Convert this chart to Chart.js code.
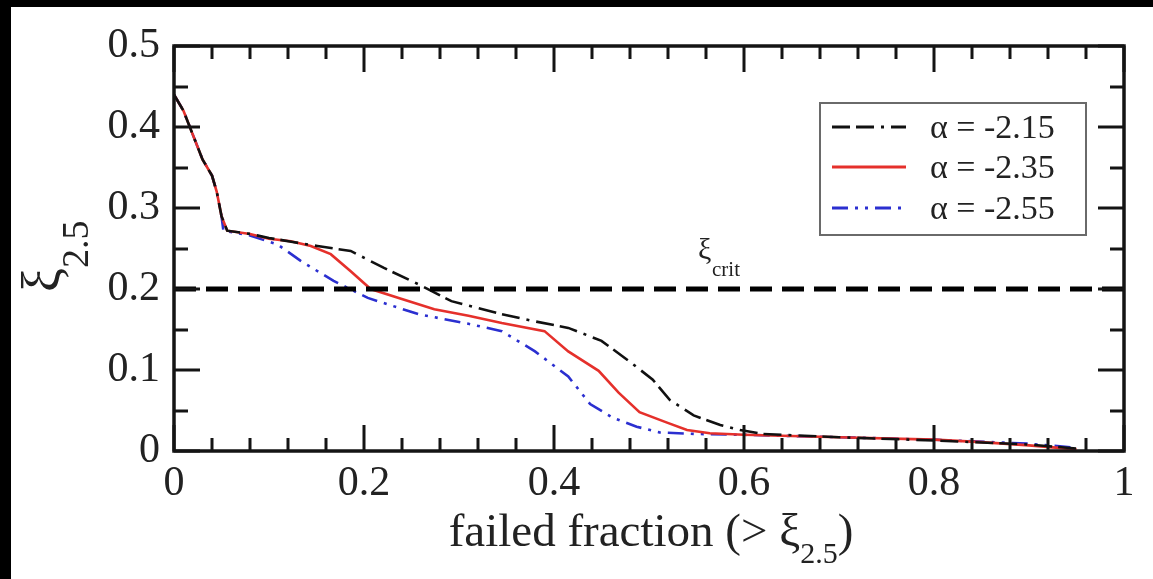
<!DOCTYPE html>
<html>
<head>
<meta charset="utf-8">
<script src="https://cdn.jsdelivr.net/npm/chart.js@4.4.1/dist/chart.umd.min.js"></script>
<style>
  html, body { margin: 0; padding: 0; background: #fff; }
  #wrap { width: 1153px; height: 579px; }
</style>
</head>
<body>
<div id="wrap"><canvas id="xiChart" width="1153" height="579"></canvas></div>
<script>
// failed fraction vs xi_2.5 for three alpha values
const seriesLabels = ['α = -2.15', 'α = -2.35', 'α = -2.55'];

const frac215 = [0, 0.01, 0.02, 0.03, 0.04, 0.045, 0.05, 0.056, 0.08, 0.1, 0.125, 0.151, 0.186, 0.221, 0.257, 0.292, 0.345, 0.38, 0.415, 0.45, 0.479, 0.504, 0.522, 0.547, 0.575, 0.596, 0.62, 0.7, 0.8, 0.9, 0.95];
const xi215   = [0.44, 0.42, 0.39, 0.36, 0.34, 0.32, 0.29, 0.272, 0.268, 0.263, 0.258, 0.253, 0.247, 0.226, 0.206, 0.185, 0.169, 0.16, 0.152, 0.136, 0.111, 0.088, 0.063, 0.044, 0.032, 0.026, 0.021, 0.017, 0.013, 0.008, 0.003];

const frac235 = [0, 0.01, 0.02, 0.03, 0.04, 0.045, 0.05, 0.056, 0.08, 0.1, 0.123, 0.144, 0.165, 0.186, 0.207, 0.239, 0.274, 0.31, 0.345, 0.39, 0.415, 0.447, 0.468, 0.49, 0.519, 0.54, 0.564, 0.6, 0.7, 0.8, 0.85, 0.9, 0.95];
const xi235   = [0.44, 0.42, 0.39, 0.36, 0.34, 0.32, 0.29, 0.272, 0.268, 0.262, 0.259, 0.253, 0.243, 0.222, 0.2, 0.188, 0.175, 0.167, 0.158, 0.148, 0.123, 0.099, 0.072, 0.048, 0.035, 0.026, 0.022, 0.02, 0.017, 0.014, 0.011, 0.007, 0.002];

const frac255 = [0, 0.01, 0.02, 0.03, 0.04, 0.045, 0.05, 0.052, 0.08, 0.109, 0.133, 0.168, 0.204, 0.257, 0.31, 0.345, 0.38, 0.415, 0.438, 0.462, 0.487, 0.511, 0.55, 0.6, 0.7, 0.8, 0.9, 0.95];
const xi255   = [0.44, 0.42, 0.39, 0.36, 0.34, 0.32, 0.29, 0.272, 0.266, 0.255, 0.235, 0.21, 0.189, 0.169, 0.157, 0.148, 0.123, 0.092, 0.058, 0.041, 0.03, 0.023, 0.021, 0.02, 0.017, 0.014, 0.009, 0.004];

const xiCrit = 0.2;
const critSpan = [0, 1];

const xTicks = [0, 0.2, 0.4, 0.6, 0.8, 1];
const xTickLabels = ['0', '0.2', '0.4', '0.6', '0.8', '1'];
const xMinor = [0.04, 0.08, 0.12, 0.16, 0.24, 0.28, 0.32, 0.36, 0.44, 0.48, 0.52, 0.56, 0.64, 0.68, 0.72, 0.76, 0.84, 0.88, 0.92, 0.96];
const yTicks = [0, 0.1, 0.2, 0.3, 0.4, 0.5];
const yTickLabels = ['0', '0.1', '0.2', '0.3', '0.4', '0.5'];
const yMinor = [0.05, 0.15, 0.25, 0.35, 0.45];

const SERIF = '"Liberation Serif", "DejaVu Serif", serif';
const INK = '#141414';

const pts = (xs, ys) => xs.map((x, i) => ({ x: x, y: ys[i] }));

const lineStyles = [
  { color: '#111111', dash: [18, 6, 18, 7, 3, 7] },
  { color: '#e5302b', dash: [] },
  { color: '#2b2fd0', dash: [16, 7, 3, 7, 3, 7] }
];

// frame, inward ticks, legend and titles drawn by hand
const decor = {
  id: 'decor',
  beforeDraw(chart) {
    const c = chart.ctx;
    c.save();
    c.fillStyle = '#ffffff';
    c.fillRect(0, 0, chart.width, chart.height);
    c.fillStyle = '#000000';
    c.fillRect(0, 0, chart.width, 7);
    c.fillRect(0, 0, 11, chart.height);
    c.restore();
  },
  afterDraw(chart) {
    const c = chart.ctx;
    const a = chart.chartArea;
    const sx = chart.scales.x, sy = chart.scales.y;
    c.save();

    // ticks on all four sides, pointing in
    c.strokeStyle = INK;
    c.lineWidth = 3;
    const tickX = (v, len) => {
      const px = Math.round(sx.getPixelForValue(v));
      c.beginPath();
      c.moveTo(px, a.bottom); c.lineTo(px, a.bottom - len);
      c.moveTo(px, a.top); c.lineTo(px, a.top + len);
      c.stroke();
    };
    const tickY = (v, len) => {
      const py = Math.round(sy.getPixelForValue(v));
      c.beginPath();
      c.moveTo(a.left, py); c.lineTo(a.left + len, py);
      c.moveTo(a.right, py); c.lineTo(a.right - len, py);
      c.stroke();
    };
    xTicks.forEach(v => tickX(v, 26));
    xMinor.forEach(v => tickX(v, 13));
    yTicks.forEach(v => tickY(v, 26));
    yMinor.forEach(v => tickY(v, 14));

    // frame
    c.lineWidth = 3.5;
    c.strokeRect(a.left, a.top, a.right - a.left, a.bottom - a.top);

    // legend
    const lx = 820, ly = 103, lw = 266, lh = 132;
    c.fillStyle = '#ffffff';
    c.fillRect(lx, ly, lw, lh);
    c.strokeStyle = '#6a6a6a';
    c.lineWidth = 2;
    c.strokeRect(lx, ly, lw, lh);
    const rows = [127, 167, 208];
    c.font = '34px ' + SERIF;
    c.textBaseline = 'middle';
    c.textAlign = 'left';
    seriesLabels.forEach((lab, i) => {
      const st = lineStyles[i];
      c.strokeStyle = st.color;
      c.lineWidth = 3;
      c.setLineDash(st.dash);
      c.beginPath();
      c.moveTo(832, rows[i]); c.lineTo(906, rows[i]);
      c.stroke();
      c.setLineDash([]);
      c.fillStyle = '#222';
      c.fillText(lab, 930, rows[i] + 2);
    });

    // xi_crit label
    c.textBaseline = 'alphabetic';
    c.fillStyle = '#222';
    c.font = '30px ' + SERIF;
    c.fillText('ξ', 698, 259);
    c.font = '21px ' + SERIF;
    c.fillText('crit', 712, 276);

    // x axis title
    const main = 'failed fraction (> ξ';
    c.font = '47px ' + SERIF;
    const wMain = c.measureText(main).width;
    c.font = '30px ' + SERIF;
    const wSub = c.measureText('2.5').width;
    c.font = '47px ' + SERIF;
    const wClose = c.measureText(')').width;
    let tx = 651 - (wMain + wSub + wClose) / 2;
    c.fillText(main, tx, 546);
    tx += wMain;
    c.font = '30px ' + SERIF;
    c.fillText('2.5', tx, 563);
    tx += wSub;
    c.font = '47px ' + SERIF;
    c.fillText(')', tx, 546);

    // y axis title, rotated
    c.translate(60, 292);
    c.rotate(-Math.PI / 2);
    c.font = '54px ' + SERIF;
    c.fillText('ξ', 0, 0);
    const wXi = c.measureText('ξ').width;
    c.font = '38px ' + SERIF;
    c.fillText('2.5', wXi, 28);

    c.restore();
  }
};

new Chart(document.getElementById('xiChart'), {
  type: 'line',
  data: {
    datasets: [
      {
        label: 'crit',
        data: critSpan.map(x => ({ x: x, y: xiCrit })),
        borderColor: '#000000',
        borderWidth: 5,
        borderDash: [22, 10],
        pointRadius: 0
      },
      {
        label: seriesLabels[0],
        data: pts(frac215, xi215),
        borderColor: lineStyles[0].color,
        borderWidth: 2.6,
        borderDash: lineStyles[0].dash,
        pointRadius: 0,
        tension: 0
      },
      {
        label: seriesLabels[1],
        data: pts(frac235, xi235),
        borderColor: lineStyles[1].color,
        borderWidth: 2.6,
        pointRadius: 0,
        tension: 0
      },
      {
        label: seriesLabels[2],
        data: pts(frac255, xi255),
        borderColor: lineStyles[2].color,
        borderWidth: 2.6,
        borderDash: lineStyles[2].dash,
        pointRadius: 0,
        tension: 0
      }
    ]
  },
  options: {
    responsive: false,
    animation: false,
    layout: { padding: { left: 0, top: 46, right: 29, bottom: 0 } },
    plugins: {
      legend: { display: false },
      tooltip: { enabled: false }
    },
    scales: {
      x: {
        type: 'linear',
        min: 0,
        max: 1,
        grid: { display: false, drawTicks: false },
        border: { display: false },
        afterFit: s => { s.height = 128; },
        afterBuildTicks: s => { s.ticks = xTicks.map(v => ({ value: v })); },
        ticks: {
          color: '#222',
          padding: 8,
          maxRotation: 0,
          autoSkip: false,
          font: { family: SERIF, size: 42 },
          callback: (v, i) => xTickLabels[i]
        }
      },
      y: {
        type: 'linear',
        min: 0,
        max: 0.5,
        grid: { display: false, drawTicks: false },
        border: { display: false },
        afterFit: s => { s.width = 174; },
        afterBuildTicks: s => { s.ticks = yTicks.map(v => ({ value: v })); },
        ticks: {
          color: '#222',
          padding: 14,
          autoSkip: false,
          font: { family: SERIF, size: 42 },
          callback: (v, i) => yTickLabels[i]
        }
      }
    }
  },
  plugins: [decor]
});
</script>
</body>
</html>
